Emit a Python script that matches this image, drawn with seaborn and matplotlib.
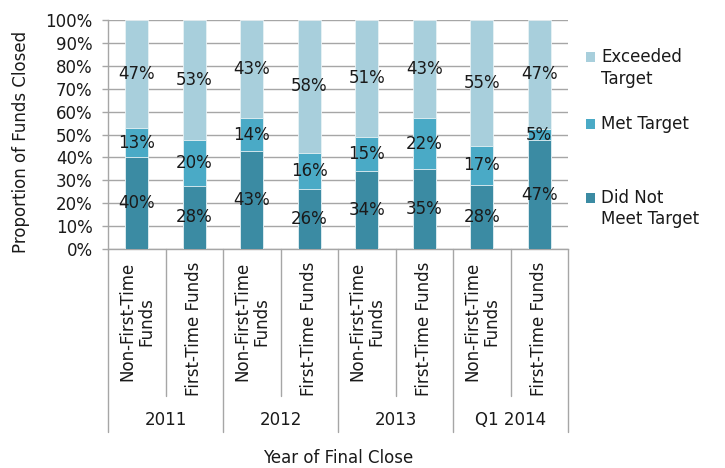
import numpy as np
import pandas as pd
import matplotlib
matplotlib.use("Agg")
import matplotlib.pyplot as plt
import matplotlib.transforms as mtransforms
from matplotlib.patches import Rectangle
import seaborn as sns

# ---- data ----
groups = ["2011", "2012", "2013", "Q1 2014"]
fund_types = ["Non-First-Time\nFunds", "First-Time Funds"]
did_not_meet = [40, 28, 43, 26, 34, 35, 28, 47]
met = [13, 20, 14, 16, 15, 22, 17, 5]
exceeded = [47, 53, 43, 58, 51, 43, 55, 47]
series_names = ["Exceeded\nTarget", "Met Target", "Did Not\nMeet Target"]
colors = {"Did": "#3b8ba3", "Met": "#4aaac6", "Exc": "#a8cfdc"}

sns.set_theme(style="white")
plt.rcParams["font.family"] = ["DejaVu Sans"]
FS = 12

n = len(did_not_meet)
keys = [str(i) for i in range(n)]
d = np.array(did_not_meet, float)
m = np.array(met, float)
e = np.array(exceeded, float)
tot = d + m + e
dn, mn, en = d / tot * 100, m / tot * 100, e / tot * 100

df = pd.DataFrame({
    "key": keys,
    "top_exc": dn + mn + en,
    "top_met": dn + mn,
    "top_did": dn,
})

W, H = 725, 468
fig = plt.figure(figsize=(W / 100, H / 100), dpi=100)
ax = fig.add_axes([108 / W, 1 - 249 / H, (568 - 108) / W, (249 - 20) / H])

for col, c in [("top_exc", colors["Exc"]), ("top_met", colors["Met"]), ("top_did", colors["Did"])]:
    sns.barplot(data=df, x="key", y=col, order=keys, color=c, saturation=1,
                width=0.4, errorbar=None, ax=ax, edgecolor="#e8f2f5", linewidth=0.6,
                zorder=3)

ax.set_ylim(0, 100)
ax.set_xlim(-0.5, n - 0.5)
ax.set_yticks(np.arange(0, 101, 10))
ax.set_yticklabels([f"{v}%" for v in range(0, 101, 10)], fontsize=FS, color="#1a1a1a")
ax.yaxis.grid(True, color="#a6a6a6", linewidth=1.0)
ax.set_axisbelow(True)
ax.set_xticks([])
ax.set_xlabel("")
ax.set_ylabel("")
for s in ["top", "right"]:
    ax.spines[s].set_visible(False)
for s in ["left", "bottom"]:
    ax.spines[s].set_color("#a6a6a6")
    ax.spines[s].set_linewidth(1.0)
ax.tick_params(axis="y", which="major", left=True, length=4, width=1, color="#a6a6a6", pad=7)

# data labels
for i in range(n):
    ax.text(i, dn[i] / 2, f"{did_not_meet[i]}%", ha="center", va="center", fontsize=FS, color="#1a1a1a", zorder=5)
    ax.text(i, dn[i] + mn[i] / 2, f"{met[i]}%", ha="center", va="center", fontsize=FS, color="#1a1a1a", zorder=5)
    ax.text(i, dn[i] + mn[i] + en[i] / 2, f"{exceeded[i]}%", ha="center", va="center", fontsize=FS, color="#1a1a1a", zorder=5)

# multi-level category axis
ah = 249 - 20
def yfrac(py):
    return -(py - 249) / ah

trans = mtransforms.blended_transform_factory(ax.transData, ax.transAxes)
for b in range(n + 1):
    x = b - 0.5
    y_end = yfrac(432) if b % 2 == 0 else yfrac(396)
    ax.plot([x, x], [0, y_end], transform=trans, color="#a6a6a6", lw=1.0, clip_on=False)

for i in range(n):
    ax.text(i, yfrac(262), fund_types[i % 2], transform=trans, rotation=90,
            ha="center", va="top", multialignment="center", fontsize=FS, color="#1a1a1a",
            linespacing=1.1)
for g, name in enumerate(groups):
    ax.text(2 * g + 0.5, yfrac(420), name, transform=trans, ha="center", va="center",
            fontsize=FS, color="#1a1a1a")

fig.text(338 / W, 1 - 458 / H, "Year of Final Close", ha="center", va="center", fontsize=FS, color="#1a1a1a")
fig.text(21 / W, 1 - 142 / H, "Proportion of Funds Closed", ha="center", va="center",
         rotation=90, fontsize=FS, color="#1a1a1a")

# legend (manual)
leg = [(series_names[0], colors["Exc"], 57), (series_names[1], colors["Met"], 124), (series_names[2], colors["Did"], 198)]
for label, c, ycen in leg:
    fig.add_artist(Rectangle((586 / W, 1 - (ycen + 4.5) / H), 9 / W, 9 / H,
                             transform=fig.transFigure, facecolor=c, edgecolor="none"))
    fig.text(601 / W, 1 - (ycen - 9) / H, label, ha="left", va="top", fontsize=FS,
             color="#1a1a1a", linespacing=1.25)

fig.savefig("out.png", dpi=100)
